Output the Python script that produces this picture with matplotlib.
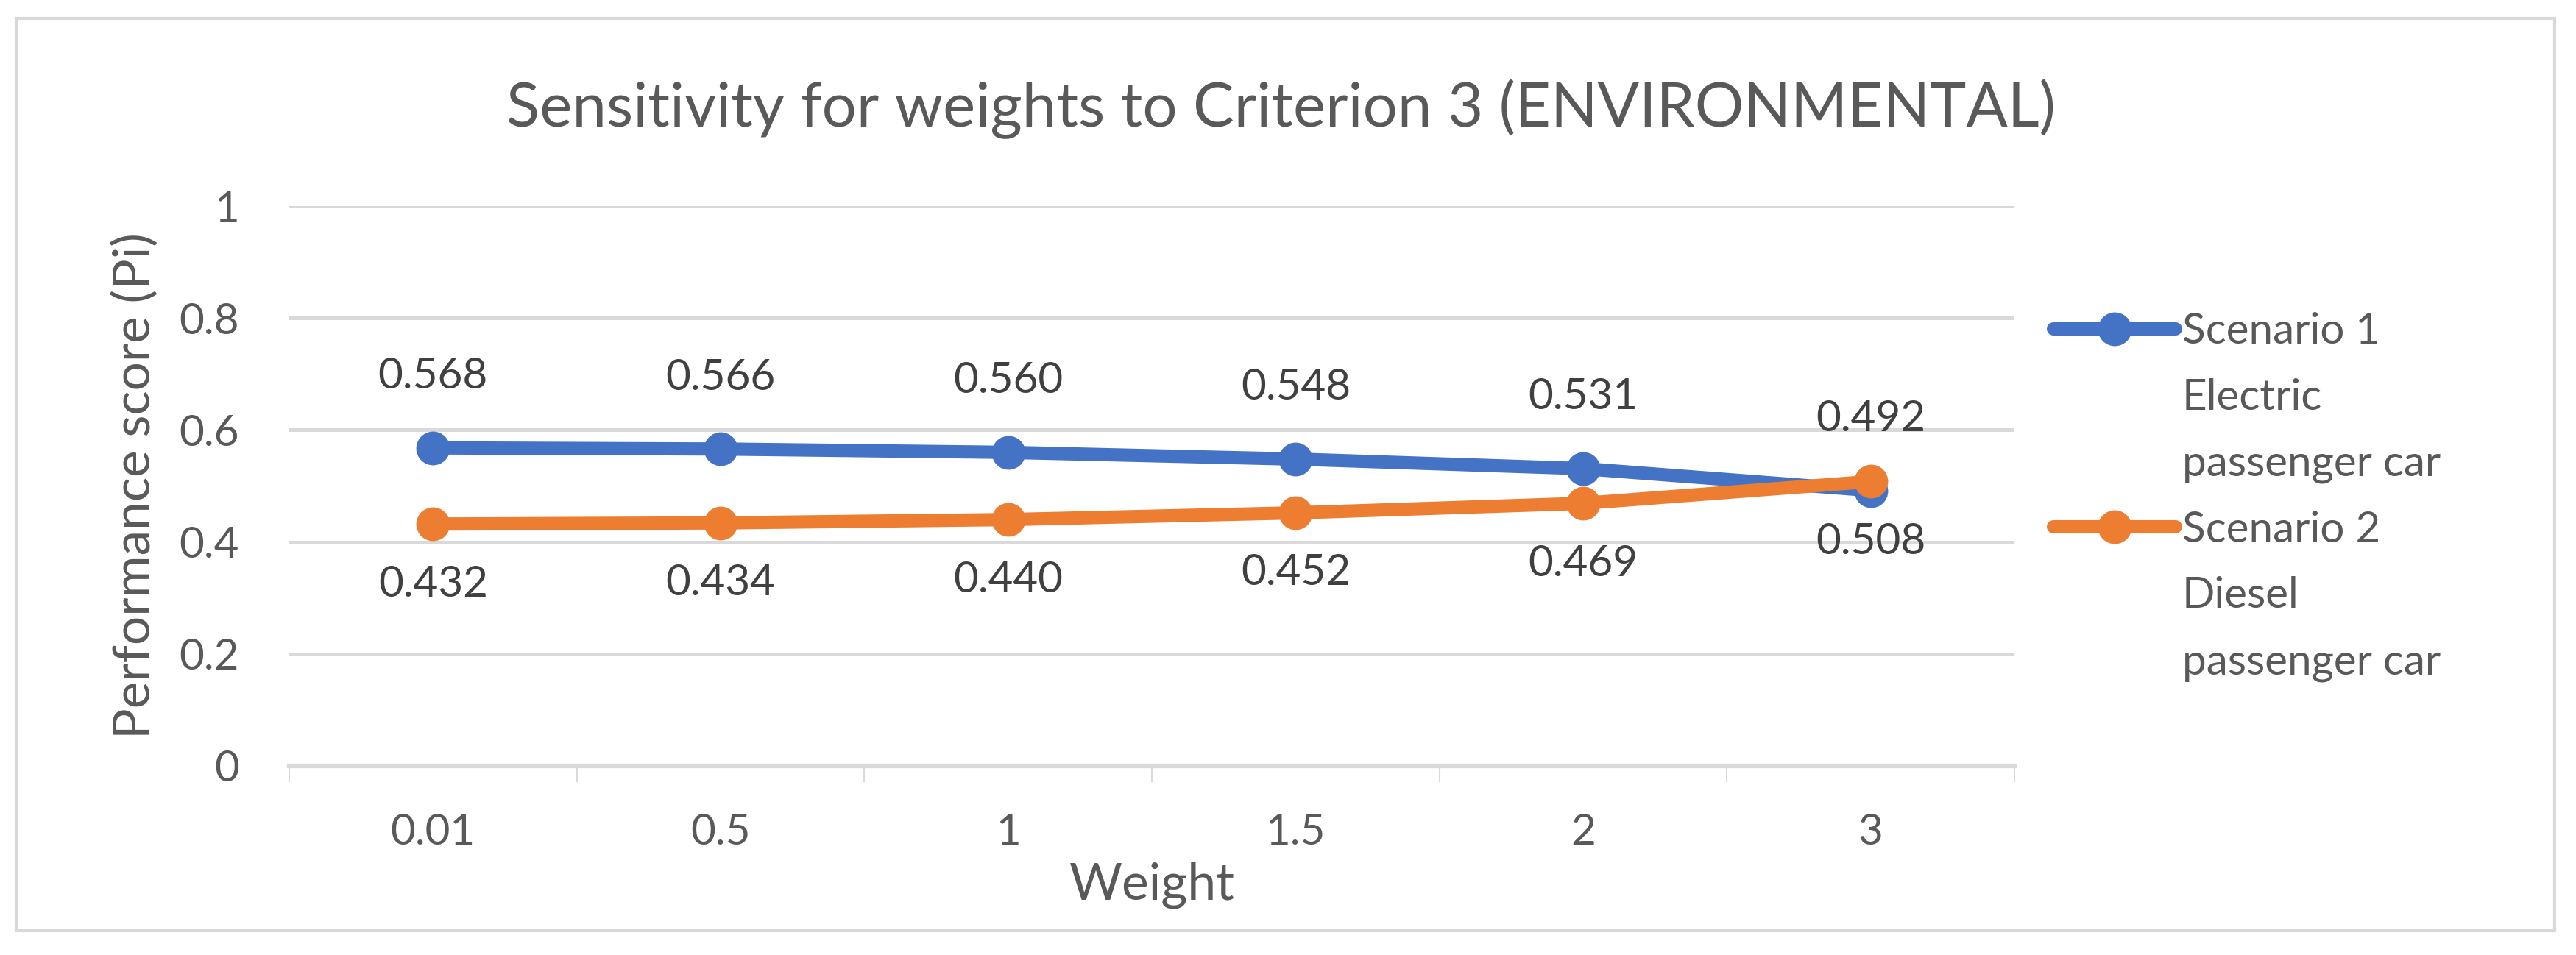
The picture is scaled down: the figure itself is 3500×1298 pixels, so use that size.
import matplotlib
matplotlib.use('Agg')
import matplotlib.pyplot as plt
from matplotlib.patches import Rectangle
from matplotlib.lines import Line2D

plt.rcParams['font.family'] = ['Lato', 'DejaVu Sans']

# data
weights = ['0.01', '0.5', '1', '1.5', '2', '3']
scenario1 = [0.568, 0.566, 0.560, 0.548, 0.531, 0.492]
scenario2 = [0.432, 0.434, 0.440, 0.452, 0.469, 0.508]
labels1 = ['Scenario 1', 'Electric', 'passenger car']
labels2 = ['Scenario 2', 'Diesel', 'passenger car']
yticks = [0, 0.2, 0.4, 0.6, 0.8, 1.0]
ytick_labels = ['0', '0.2', '0.4', '0.6', '0.8', '1']

blue = '#4472C4'
orange = '#ED7D31'
grid_c = '#D9D9D9'
text_c = '#595959'
lab_c = '#404040'

W, H = 3500, 1298
fig = plt.figure(figsize=(W / 100, H / 100), dpi=100)

# chart border
fig.patches.append(Rectangle((22 / W, 1 - 1265 / H), (3471 - 22) / W, (1265 - 25) / H,
                             transform=fig.transFigure, fill=False, edgecolor=grid_c, linewidth=3))

ax = fig.add_axes([393 / W, 1 - 1041 / H, (2737 - 393) / W, (1041 - 280) / H])

x = list(range(len(weights)))
l1, = ax.plot(x, scenario1, color=blue, linewidth=13, marker='o', markersize=32,
              solid_capstyle='round', zorder=3)
l2, = ax.plot(x, scenario2, color=orange, linewidth=13, marker='o', markersize=32,
              solid_capstyle='round', zorder=4)

# data labels
for i, v in enumerate(scenario1):
    ax.annotate('%.3f' % v, (i, v), xytext=(0, 70), textcoords='offset points',
                ha='center', va='center', fontsize=42, color=lab_c)
for i, v in enumerate(scenario2):
    ax.annotate('%.3f' % v, (i, v), xytext=(0, -59), textcoords='offset points',
                ha='center', va='center', fontsize=42, color=lab_c)

ax.set_xlim(-0.5, len(weights) - 0.5)
ax.set_ylim(0, 1)
ax.set_xticks(x)
ax.set_xticklabels(weights)
ax.set_xticks([i - 0.5 for i in range(len(weights) + 1)], minor=True)
ax.set_yticks(yticks)
ax.set_yticklabels(ytick_labels)

ax.tick_params(axis='x', which='major', length=0, pad=46, labelsize=42, labelcolor=text_c)
ax.tick_params(axis='x', which='minor', length=16, width=1.5, color=grid_c)
ax.tick_params(axis='y', length=0, pad=49, labelsize=42, labelcolor=text_c)

ax.grid(axis='y', color=grid_c, linewidth=3.6)
ax.set_axisbelow(True)
for s in ['top', 'right', 'left']:
    ax.spines[s].set_visible(False)
ax.spines['bottom'].set_color(grid_c)
ax.spines['bottom'].set_linewidth(4.5)

ax.set_xlabel('Weight', fontsize=50, color=text_c, labelpad=10)
ax.set_ylabel('Performance score (Pi)', fontsize=50, color=text_c, labelpad=20)

fig.text(0.4974, 1 - 172 / H, 'Sensitivity for weights to Criterion 3 (ENVIRONMENTAL)',
         ha='center', va='baseline', fontsize=60, color=text_c)

# legend: handle only on the first line of each entry
blank = Line2D([], [], color='none')
handles = [l1, blank, blank, l2, blank, blank]
leg = ax.legend(handles, labels1 + labels2, loc='upper left',
                bbox_to_anchor=(2790 / W, 1 - 424 / H),
                bbox_transform=fig.transFigure, frameon=False, fontsize=42,
                handlelength=2.85, handletextpad=0.15, labelspacing=0.63,
                borderpad=0, borderaxespad=0)
for t in leg.get_texts():
    t.set_color(text_c)

fig.savefig('out.png', dpi=100)
